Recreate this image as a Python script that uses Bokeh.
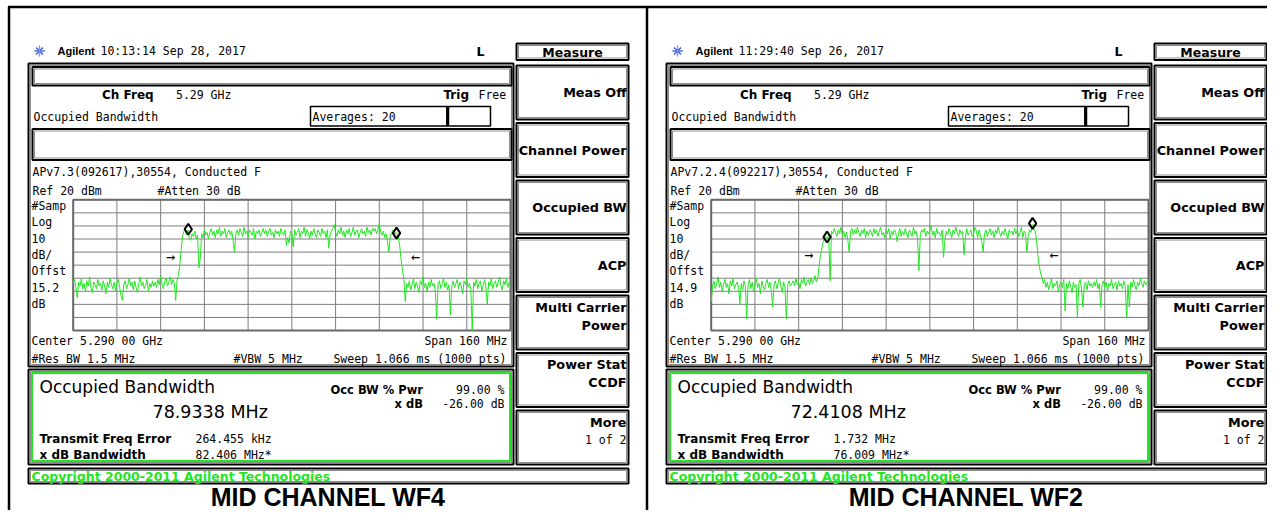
from bokeh.plotting import figure
from bokeh.models import Range1d
from bokeh.core.properties import value
from bokeh.embed import file_html
from bokeh.resources import INLINE

# ---------------- data ----------------
START_MHZ, STOP_MHZ, STEP_MHZ = 5210.0, 5370.0, 0.5
REF_DBM, BOTTOM_DBM = 20, -80
freq_mhz = [START_MHZ + STEP_MHZ * i for i in range(321)]

wf4_dbm = [
    -44, -41, -47, -55, -43, -46, -40, -48, -44, -50, -42, -46, -39, -47, -51, -43, -45, -48, -41, -46,
    -44, -49, -42, -46, -52, -43, -47, -40, -45, -48, -43, -50, -44, -41, -47, -53, -57, -45, -42, -48,
    -45, -40, -46, -43, -49, -42, -47, -51, -44, -39, -46, -43, -48, -45, -41, -50, -44, -47, -42, -46,
    -43, -47, -41, -45, -38, -44, -48, -42, -40, -46, -43, -39, -45, -41, -44, -57, -41, -38, -30, -18,
    -8, -4, -3, -7, -3, -9, -11, -6, -8, -4, -10, -7, -32, -25, -6, -9, -3, -7, -5, -10,
    -5, -2, -7, -4, -9, -3, -6, -1, -8, -4, -6, -2, -9, -5, -3, -7, -4, -11, -20, -6,
    -3, -7, -2, -5, -8, -1, -6, -4, -9, -3, -5, -7, -2, -10, -4, -6, -3, -8, -5, -2,
    -6, -3, -8, -4, -2, -7, -5, -9, -3, -6, -4, -8, -2, -5, -7, -3, -15, -9, -13, -4,
    -6, -16, -3, -7, -5, -2, -9, -4, -6, -1, -8, -3, -5, -10, -4, -7, -2, -6, -9, -3,
    -5, -8, -2, -6, -4, -9, -3, -17, -7, -4, -2, 1, -5, -8, -3, -6, -1, -7, -4, -9,
    -3, -6, -2, -8, -5, -1, -7, -4, -3, -9, -5, -2, -6, -4, -8, -1, -5, -3, -7, -2,
    -4, -2, -6, -3, 2, -5, -7, -4, -9, -6, -12, -20, -8, -5, -3, -7, -5, -6, -9, -16,
    -26, -34, -41, -58, -44, -47, -42, -49, -45, -40, -48, -43, -46, -51, -42, -45, -39, -47, -44, -50,
    -43, -47, -41, -46, -44, -50, -71, -45, -42, -48, -44, -40, -47, -43, -49, -45, -68, -46, -42, -47,
    -44, -41, -48, -43, -46, -52, -42, -45, -40, -47, -44, -49, -80, -43, -46, -41, -48, -44, -42, -50,
    -45, -41, -47, -60, -43, -46, -40, -48, -44, -42, -47, -43, -39, -46, -49, -42, -45, -40, -47, -43,
    -44,
]

wf2_dbm = [
    -58, -46, -42, -48, -44, -39, -47, -43, -50, -45, -41, -47, -44, -52, -42, -46, -40, -48, -45, -43,
    -47, -60, -44, -49, -42, -46, -71, -45, -41, -48, -43, -50, -46, -40, -47, -44, -52, -42, -46, -49,
    -44, -41, -47, -43, -50, -62, -45, -42, -48, -44, -40, -46, -51, -43, -47, -71, -45, -42, -46, -44,
    -42, -46, -40, -45, -43, -48, -41, -44, -39, -46, -43, -41, -45, -40, -44, -42, -38, -43, -40, -30,
    -22, -17, -12, -9, -8, -10, -7, -42, -4, -6, -2, -5, -8, -3, -6, -1, -7, -4, -9, -5,
    -11, -20, -4, -2, -7, -3, -6, -1, -5, -8, -3, -6, -2, -9, -4, -7, -3, -5, -8, -2,
    -6, -3, -8, -4, -1, -7, -5, -9, -3, -6, -2, -10, -4, -7, -3, -5, -12, -6, -2, -8,
    -4, -7, -2, -6, -9, -3, -5, -8, -1, -6, -4, -10, -34, -7, -3, -5, -2, -8, -4, -6,
    -3, 0, -7, -4, -9, -2, -6, -5, -8, -3, -24, -11, -4, -7, -2, -5, -9, -3, -6, -1,
    -5, -8, -3, -6, -4, -22, -9, -2, -7, -5, -3, -8, -6, -1, -4, -9, -3, -7, -12, -20,
    -6, -3, -8, -5, -2, -7, -4, -9, -3, -6, -1, -5, -8, -4, -7, -2, -6, -10, -3, -5,
    -4, -7, -2, -6, -3, -8, -5, -1, -9, -4, -6, -20, -7, -3, -5, 1, -2, -4, -10, -22,
    -30, -36, -39, -44, -41, -47, -43, -49, -45, -40, -48, -44, -46, -42, -50, -45, -43, -47, -41, -65,
    -44, -48, -42, -46, -51, -43, -47, -45, -70, -44, -41, -48, -62, -45, -43, -49, -42, -46, -44, -47,
    -43, -46, -41, -48, -44, -62, -45, -42, -47, -43, -50, -44, -46, -41, -48, -45, -43, -49, -42, -46,
    -44, -48, -42, -46, -70, -45, -62, -43, -47, -41, -45, -49, -43, -46, -40, -44, -47, -42, -45, -43,
    -41,
]

traces = [wf4_dbm, wf2_dbm]
titles = ["MID CHANNEL WF4", "MID CHANNEL WF2"]
timestamps = ["10:13:14  Sep 28, 2017", "11:29:40  Sep 26, 2017"]
setup_lines = ["APv7.3(092617),30554, Conducted F", "APv7.2.4(092217),30554, Conducted F"]
offset_db = ["15.2", "14.9"]
occ_bw_values = ["78.9338 MHz", "72.4108 MHz"]
freq_error_values = ["264.455 kHz", "1.732 MHz"]
xdb_bw_values = ["82.406 MHz*", "76.009 MHz*"]
marker_mhz = [[5252.1, 5328.3], [5252.4, 5327.6]]
marker_dbm = [[-2.5, -5.5], [-8.5, 2.0]]
arrow_mhz = [[5245.6, 5335.2], [5245.7, 5335.3]]
arrow_dbm = [-23.4, -22.1]
arrow_glyphs = ["\u2192", "\u2190"]
left_labels = ["#Samp", "Log", "10", "dB/", "Offst", None, "dB"]
softkey_labels = [["Meas Off"], ["Channel Power"], ["Occupied BW"], ["ACP"],
                  ["Multi Carrier", "Power"], ["Power Stat", "CCDF"], ["More", "1 of 2"]]

# ---------------- styles ----------------
MONO = "DejaVu Sans Mono"
SANS = "DejaVu Sans"
GREEN = "#22e622"
GRAY = "#8c8c8c"

p = figure(width=1267, height=510, x_range=Range1d(0, 1267), y_range=Range1d(510, 0),
           output_backend="svg", toolbar_location=None, x_axis_type=None, y_axis_type=None,
           min_border=0)
p.outline_line_color = None
p.background_fill_color = "white"
p.border_fill_color = "white"


def txt(x, y, s, size=11.5, font=MONO, bold=False, align="left", color="#000000", baseline="middle"):
    p.text(x=[x], y=[y], text=[s], text_font=value(font), text_font_size=f"{size}px",
           text_font_style="bold" if bold else "normal", text_align=align,
           text_baseline=baseline, text_color=color)


def box(l, r, t, b, color="#000000", width=2, inner=True):
    p.quad(left=[l], right=[r], top=[t], bottom=[b], fill_color=None,
           line_color=color, line_width=width)
    if inner:
        p.quad(left=[l + 2], right=[r - 2], top=[t + 2], bottom=[b - 2], fill_color=None,
               line_color=GRAY, line_width=1)


# outer frame
p.segment(x0=[7.5, 8.5, 646.5], y0=[6.5, 6.5, 6.5], x1=[1267, 8.5, 646.5], y1=[6.5, 510, 510],
          line_color="black", line_width=2.5)

for k, ox in enumerate([0, 638]):
    # header
    p.scatter(x=[ox + 39], y=[50.5], marker="asterisk", size=10, line_color="#3a5ee0", line_width=1.3)
    p.scatter(x=[ox + 39], y=[50.5], marker="cross", size=12, line_color="#8fa4f0", line_width=0.8)
    txt(ox + 57, 50.5, "Agilent", size=11, font="Liberation Sans", bold=True)
    txt(ox + 100, 50.5, timestamps[k], size=11.5)
    txt(ox + 480, 50.5, "L", size=12.5, font=SANS, bold=True, align="center")

    # main panel
    box(ox + 28, ox + 513, 63, 366)
    box(ox + 32, ox + 511, 66.5, 85)
    txt(ox + 101.5, 94.5, "Ch Freq", size=12, font=SANS, bold=True)
    txt(ox + 175.5, 94.5, "5.29 GHz")
    txt(ox + 443, 94.5, "Trig", size=12, font=SANS, bold=True)
    txt(ox + 478, 94.5, "Free")
    txt(ox + 33, 116, "Occupied Bandwidth")
    p.quad(left=[ox + 310], right=[ox + 446.5], top=[106], bottom=[125.5], fill_color=None,
           line_color="black", line_width=1.5)
    p.quad(left=[ox + 446.5], right=[ox + 490], top=[106], bottom=[125.5], fill_color=None,
           line_color="black", line_width=1.5)
    p.segment(x0=[ox + 447.5], y0=[106], x1=[ox + 447.5], y1=[125.5], line_color="black", line_width=2.5)
    txt(ox + 312, 116, "Averages: 20")
    box(ox + 32, ox + 511, 128.5, 159.5)
    txt(ox + 32, 171.5, setup_lines[k])
    txt(ox + 32, 190, "Ref 20 dBm")
    txt(ox + 157, 190, "#Atten 30 dB")
    for i, lab in enumerate(left_labels):
        txt(ox + 31, 205 + 16.4 * i, offset_db[k] if lab is None else lab)

    # graticule + trace via sub-coordinates
    sub = p.subplot(x_source=Range1d(START_MHZ, STOP_MHZ), y_source=Range1d(BOTTOM_DBM, REF_DBM),
                    x_target=Range1d(ox + 72.7, ox + 510), y_target=Range1d(330, 199.3))
    vx = [START_MHZ + (STOP_MHZ - START_MHZ) / 10 * j for j in range(11)]
    hy = [BOTTOM_DBM + 10 * j for j in range(11)]
    sub.segment(x0=vx, y0=[BOTTOM_DBM] * 11, x1=vx, y1=[REF_DBM] * 11, line_color="#7d7d7d", line_width=1)
    sub.segment(x0=[START_MHZ] * 11, y0=hy, x1=[STOP_MHZ] * 11, y1=hy, line_color="#7d7d7d", line_width=1)
    sub.quad(left=[START_MHZ], right=[STOP_MHZ], top=[REF_DBM], bottom=[BOTTOM_DBM], fill_color=None,
             line_color="#6a6a6a", line_width=2)
    sub.line(x=freq_mhz, y=traces[k], line_color=GREEN, line_width=1)
    sub.scatter(x=marker_mhz[k], y=marker_dbm[k], marker="diamond", size=11, line_color="black",
                line_width=2, fill_color="white", fill_alpha=0)
    sub.text(x=arrow_mhz[k], y=[arrow_dbm[k]] * 2, text=arrow_glyphs, text_font=value(MONO),
             text_font_size="15px", text_align="center", text_baseline="middle", text_color="black")

    txt(ox + 31, 340, "Center 5.290 00 GHz")
    txt(ox + 507, 340, "Span 160 MHz", align="right")
    txt(ox + 31, 358, "#Res BW 1.5 MHz")
    txt(ox + 233, 358, "#VBW 5 MHz")
    txt(ox + 506, 358, "Sweep 1.066 ms (1000 pts)", align="right")

    # results box
    box(ox + 28, ox + 513, 369, 464)
    p.quad(left=[ox + 31.5], right=[ox + 509.5], top=[372.5], bottom=[460.5], fill_color=None,
           line_color=GREEN, line_width=2)
    txt(ox + 39, 386, "Occupied Bandwidth", size=17, font=SANS)
    txt(ox + 152, 411, occ_bw_values[k], size=17.5, font=SANS)
    txt(ox + 330, 389, "Occ BW % Pwr", size=11.5, font=SANS, bold=True)
    txt(ox + 504, 389, "99.00 %", align="right")
    txt(ox + 422.5, 403, "x dB", size=11.5, font=SANS, bold=True, align="right")
    txt(ox + 504, 403, "-26.00 dB", align="right")
    txt(ox + 39, 438, "Transmit Freq Error", size=12, font=SANS, bold=True)
    txt(ox + 195, 438, freq_error_values[k])
    txt(ox + 39, 454, "x dB Bandwidth", size=12, font=SANS, bold=True)
    txt(ox + 195, 454, xdb_bw_values[k])

    # copyright bar
    box(ox + 28, ox + 628, 468, 483)
    txt(ox + 31, 476, "Copyright 2000-2011 Agilent Technologies", size=12.5, font=SANS, bold=True,
        color=GREEN)

    # softkeys
    box(ox + 516, ox + 628, 43, 59.5)
    txt(ox + 572, 51.5, "Measure", size=12.5, font=SANS, bold=True, align="center")
    for i, labels in enumerate(softkey_labels):
        top = 65 + 57.5 * i
        box(ox + 516, ox + 628, top, top + 54)
        if len(labels) == 1:
            txt(ox + 626, top + 27, labels[0], size=12.8, font=SANS, bold=True, align="right")
        else:
            txt(ox + 626, top + 11.5, labels[0], size=12.8, font=SANS, bold=True, align="right")
            if labels[1] == "1 of 2":
                txt(ox + 626, top + 29.5, labels[1], align="right")
            else:
                txt(ox + 626, top + 29.5, labels[1], size=12.8, font=SANS, bold=True, align="right")

    # caption
    txt(ox + 327.5, 496.5, titles[k], size=25, font="Liberation Sans", bold=True, align="center")

open("out.html", "w").write(file_html(p, INLINE))
